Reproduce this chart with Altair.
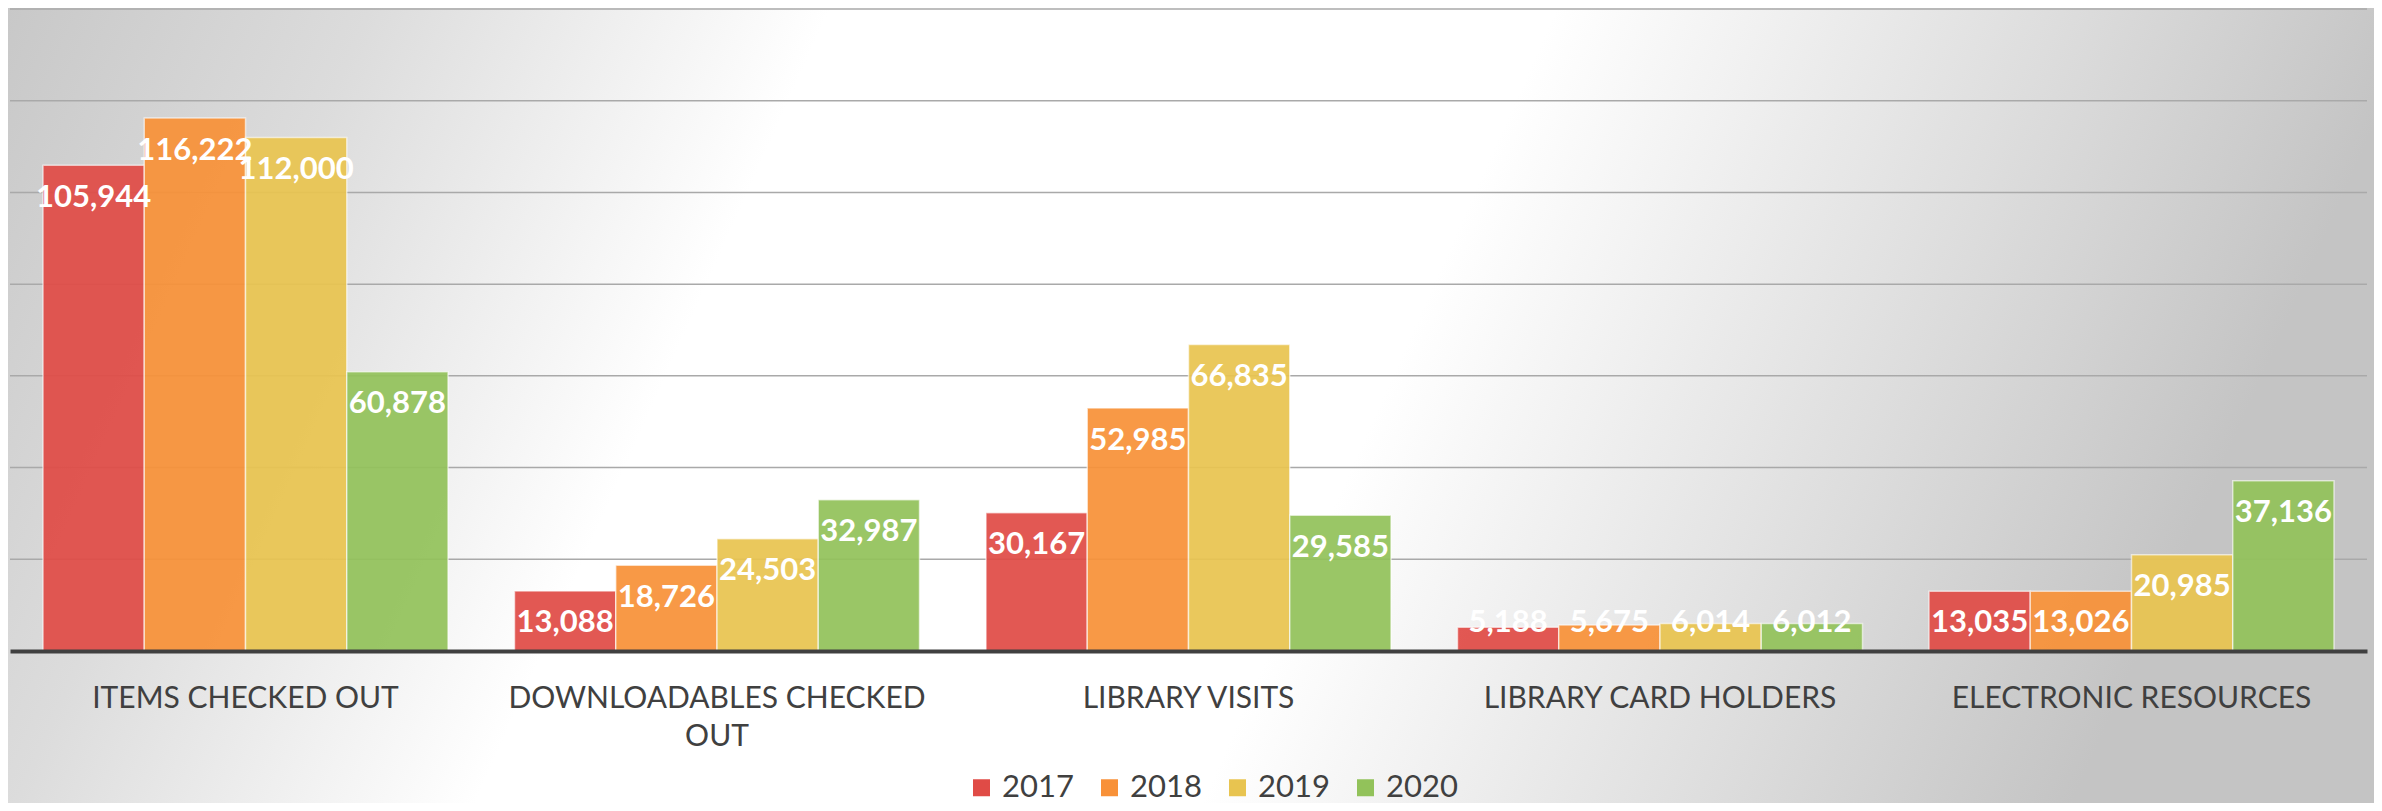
import altair as alt
import pandas as pd

categories = ["ITEMS CHECKED OUT", "DOWNLOADABLES CHECKED OUT", "LIBRARY VISITS",
              "LIBRARY CARD HOLDERS", "ELECTRONIC RESOURCES"]
years = ["2017", "2018", "2019", "2020"]
v2017 = [105944, 13088, 30167, 5188, 13035]
v2018 = [116222, 18726, 52985, 5675, 13026]
v2019 = [112000, 24503, 66835, 6014, 20985]
v2020 = [60878, 32987, 29585, 6012, 37136]
grid_values = [20000, 40000, 60000, 80000, 100000, 120000, 140000]
colors = ["#E04B46", "#F89138", "#E8C450", "#92C25A"]

rows = []
for yr, vals in zip(years, [v2017, v2018, v2019, v2020]):
    for c, v in zip(categories, vals):
        rows.append({"category": c, "year": yr, "value": v})
df = pd.DataFrame(rows)
grid_df = pd.DataFrame({"g": grid_values})
bg_df = pd.DataFrame({"a": [0]})

W, H = 2357, 642
yscale = alt.Scale(domain=[0, 140000], nice=False, zero=True)

gradient = alt.LinearGradient(
    gradient="linear", x1=0, y1=0, x2=1, y2=0.15,
    stops=[
        alt.GradientStop(offset=0.0, color="#c8c8c8"),
        alt.GradientStop(offset=0.15, color="#dcdcdc"),
        alt.GradientStop(offset=0.34, color="#ffffff"),
        alt.GradientStop(offset=0.64, color="#ffffff"),
        alt.GradientStop(offset=0.85, color="#dddddd"),
        alt.GradientStop(offset=1.0, color="#c4c4c4"),
    ],
)

bg = alt.Chart(bg_df).mark_rect(fill=gradient, strokeWidth=0).encode(
    x=alt.value(-2), x2=alt.value(2364), y=alt.value(-1), y2=alt.value(794)
)

grid = alt.Chart(grid_df).mark_rule(color="#a9a9a9", strokeWidth=1.5).encode(
    y=alt.Y("g:Q", scale=yscale, axis=None)
)

xenc = alt.X(
    "category:N", sort=categories,
    scale=alt.Scale(paddingInner=0.141, paddingOuter=0.07),
    axis=alt.Axis(
        title=None, ticks=False, grid=False, labelAngle=0,
        domainColor="#404040", domainWidth=4,
        labelFont="Lato", labelFontSize=30, labelColor="#404040",
        labelPadding=32, labelLineHeight=38, labelLimit=600, zindex=1,
        labelExpr="datum.value == 'DOWNLOADABLES CHECKED OUT' ? ['DOWNLOADABLES CHECKED', 'OUT'] : datum.value",
    ),
)
xoff = alt.XOffset("year:N", sort=years, scale=alt.Scale(paddingInner=0, paddingOuter=0))

bars = alt.Chart(df).mark_bar(
    fillOpacity=0.93, stroke="#ffffff", strokeOpacity=0.6, strokeWidth=1.5
).encode(
    x=xenc, xOffset=xoff,
    y=alt.Y("value:Q", scale=yscale, axis=None),
    color=alt.Color(
        "year:N", sort=years, scale=alt.Scale(domain=years, range=colors),
        legend=alt.Legend(
            title=None, orient="none", legendX=956, legendY=763, direction="horizontal",
            symbolType="square", symbolSize=289, symbolStrokeWidth=0, symbolOpacity=1,
            labelFont="Lato", labelFontSize=31, labelColor="#404040",
            labelOffset=5, columnPadding=20, zindex=1,
        ),
    ),
)

labels = alt.Chart(df).transform_calculate(
    labelY="max(datum.value - 7100, 6100)"
).mark_text(
    color="white", font="Lato", fontWeight="bold", fontSize=31, baseline="middle", align="center"
).encode(
    x=alt.X("category:N", sort=categories), xOffset=xoff,
    y=alt.Y("labelY:Q", scale=yscale, axis=None),
    text=alt.Text("value:Q", format=","),
)

chart = alt.layer(bg, grid, bars, labels).properties(
    width=W, height=H, padding=0
).configure_view(strokeWidth=0).configure(background="white")

chart.save("out.html", embed_options={"renderer": "svg", "actions": False})
